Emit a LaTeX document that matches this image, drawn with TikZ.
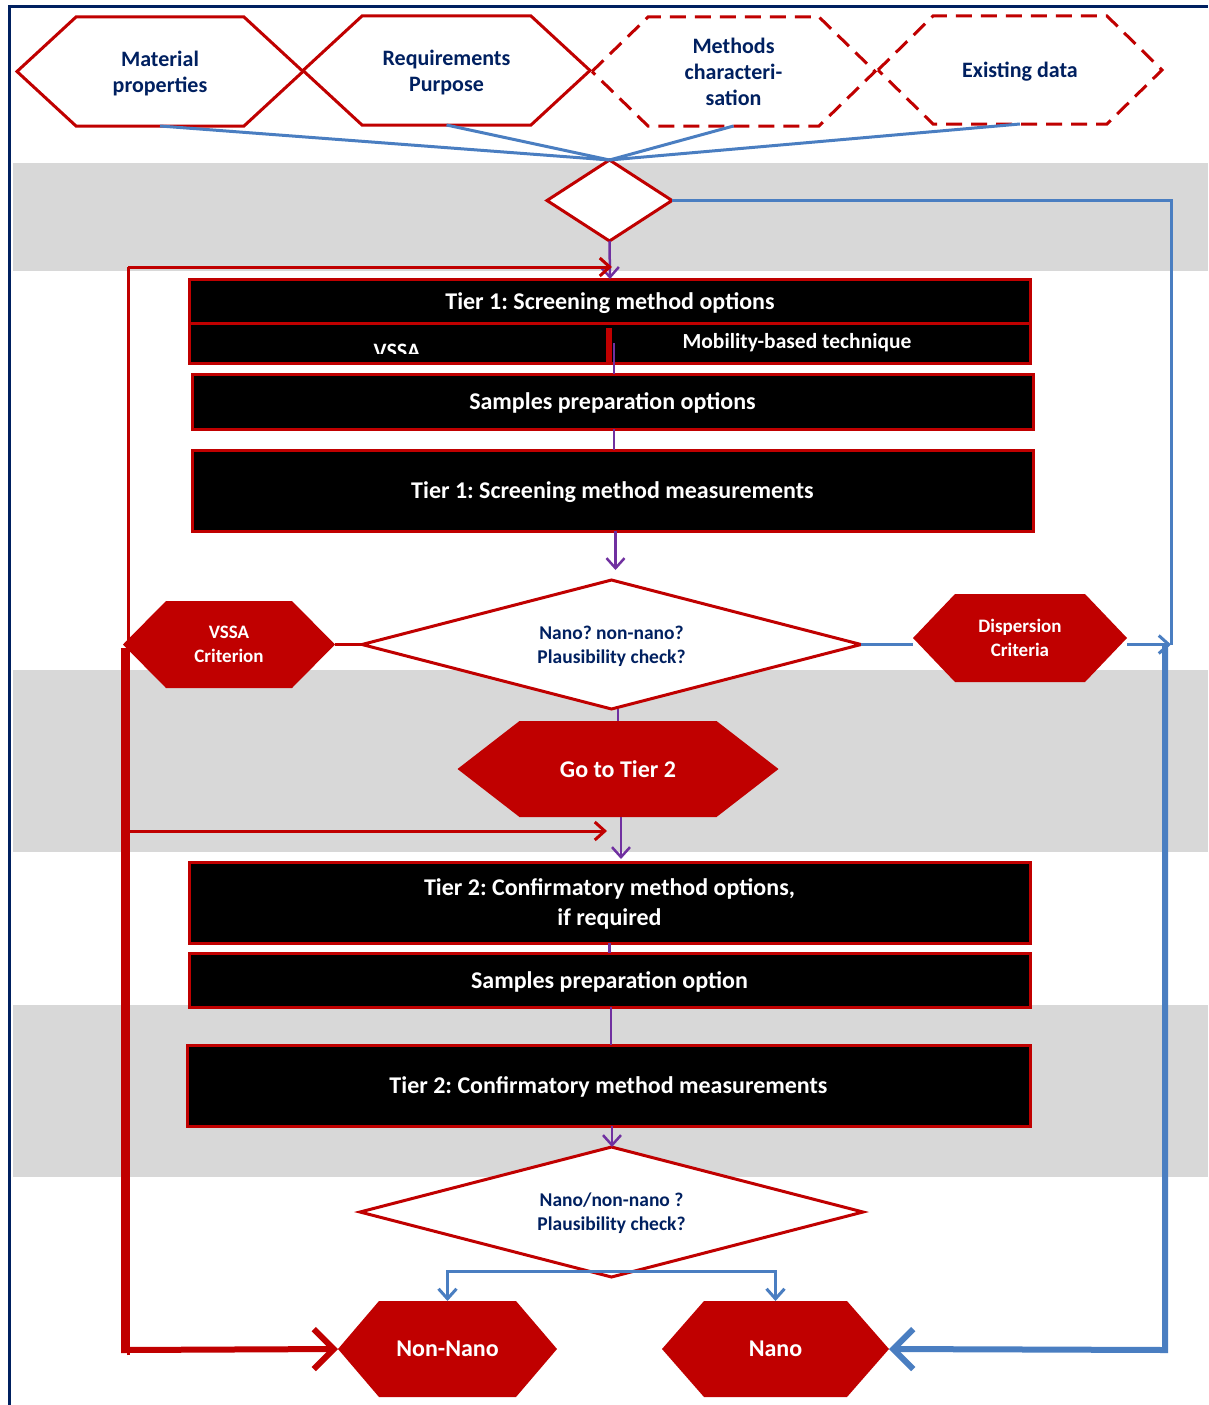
\documentclass[tikz,border=0pt]{standalone}
\usepackage{fontspec}
\setmainfont{Carlito}
\frenchspacing
\usetikzlibrary{arrows.meta,calc}
\definecolor{cred}{RGB}{192,0,0}
\definecolor{cblue}{RGB}{74,126,193}
\definecolor{cnavy}{RGB}{0,32,96}
\definecolor{cpurple}{RGB}{112,48,160}
\definecolor{cgray}{RGB}{216,216,216}
\pgfdeclarelayer{bands}\pgfdeclarelayer{shapes}\pgfsetlayers{bands,shapes,main}
\newcommand\hexshape[3]{%
\begin{pgfonlayer}{shapes}
\path[#1] (#2.west) -- ([xshift=#3pt]#2.north west) -- ([xshift=-#3pt]#2.north east) -- (#2.east) -- ([xshift=-#3pt]#2.south east) -- ([xshift=#3pt]#2.south west) -- cycle;
\end{pgfonlayer}}
\newcommand\diashape[2]{%
\begin{pgfonlayer}{shapes}
\path[#1] (#2.north) -- (#2.east) -- (#2.south) -- (#2.west) -- cycle;
\end{pgfonlayer}}
\begin{document}
\begin{tikzpicture}[x=1pt,y=-1pt,
  lbl/.style={inner sep=0pt, outer sep=0pt, align=center, text depth=0pt},
  toptxt/.style={lbl, text=cnavy, font=\fontsize{22}{26}\selectfont\bfseries},
  whitetxt/.style={lbl, text=white, font=\fontsize{24}{28}\selectfont\bfseries},
  smallwhite/.style={lbl, text=white, font=\fontsize{19}{24}\selectfont\bfseries},
  diatxt/.style={lbl, text=cnavy, font=\fontsize{19.5}{24}\selectfont\bfseries},
  hexline/.style={draw=cred, line width=3pt, fill=white, line join=miter},
  hexdash/.style={hexline, dash pattern=on 16pt off 9pt},
  hexfill/.style={fill=cred},
  box/.style={fill=black, draw=cred, line width=3pt, text=white, inner sep=0pt, outer sep=0pt, align=center, text depth=0pt,
     font=\fontsize{24}{30}\selectfont\bfseries, minimum width=841pt},
  bluethin/.style={draw=cblue, line width=3pt},
  bluethick/.style={draw=cblue, line width=6pt},
  redthin/.style={draw=cred, line width=3pt},
  redthick/.style={draw=cred, line width=6pt},
  purp/.style={draw=cpurple, line width=2.5pt},
  barb/.style={-{Straight Barb[length=10pt,width=18pt]}},
  bigbarb/.style={-{Straight Barb[length=20pt,width=40pt]}}
]
\useasboundingbox (0,0) rectangle (1208,1405);
% bands
\begin{pgfonlayer}{bands}
\fill[white] (0,0) rectangle (1208,1405);
\fill[cgray] (13,163) rectangle (1208,271);
\fill[cgray] (13,670) rectangle (1208,852);
\fill[cgray] (13,1005) rectangle (1208,1177);
\draw[cnavy, line width=3pt] (9,1405) -- (9,7) -- (1208,7);
\end{pgfonlayer}

% top hexagons
\node[toptxt, minimum width=286pt, minimum height=109pt] (mat) at (160,71.5) {Material\\properties};
\hexshape{hexline}{mat}{59}
\node[toptxt, minimum width=287pt, minimum height=109pt] (req) at (446.5,70.5) {Requirements\\Purpose};
\hexshape{hexline}{req}{59}
\node[toptxt, minimum width=283pt, minimum height=109pt] (meth) at (733.5,71.5) {Methods\\characteri-\\sation};
\hexshape{hexdash}{meth}{56}
\node[toptxt, minimum width=284pt, minimum height=108pt] (exist) at (1020,70) {Existing data};
\hexshape{hexdash}{exist}{55}

% small diamond
\node[lbl, minimum width=125pt, minimum height=81pt] (d0) at (609.5,200.5) {};
\diashape{hexline}{d0}

\draw[bluethin] (mat.south) -- (d0.north);
\draw[bluethin] (req.south) -- (d0.north);
\draw[bluethin] (meth.south) -- (d0.north);
\draw[bluethin] (exist.south) -- (d0.north);

% Tier 1 box
\node[box, minimum height=44pt] (t1) at (610,301) {Tier 1: Screening method options};
\node[box, minimum height=40pt, anchor=north] (t1b) at (t1.south) {};
\begin{scope}
\clip (191,325) rectangle (608,353);
\node[lbl, text=white, font=\fontsize{22}{24}\selectfont\bfseries, anchor=base] (vssatxt) at (397,358) {VSSA};
\end{scope}
\node[lbl, text=white, font=\fontsize{21.5}{24}\selectfont\bfseries] (mob) at (797,341) {Mobility-based technique};
\draw[cred, line width=6pt] (609,328) -- (609,362);

\node[box, minimum height=55pt] (sp1) at (612.5,401.5) {Samples preparation options};
\node[box, minimum height=81pt] (m1) at (612.5,490.5) {Tier 1: Screening method measurements};

% diamond 1
\node[diatxt, minimum width=499pt, minimum height=129pt] (d1) at (611.5,644.5) {Nano? non-nano?\\Plausibility check?};
\diashape{hexline}{d1}

\node[smallwhite, minimum width=212pt, minimum height=87pt] (vssa) at (229,644.5) {VSSA\\Criterion};
\hexshape{hexfill}{vssa}{43}
\node[smallwhite, minimum width=214pt, minimum height=88pt] (disp) at (1020,638) {Dispersion\\Criteria};
\hexshape{hexfill}{disp}{42}

\node[whitetxt, minimum width=321pt, minimum height=96pt] (g2) at (618,769) {Go to Tier 2};
\hexshape{hexfill}{g2}{62}

% Tier 2 boxes
\node[box, minimum height=81pt] (t2) at (609.5,902.5) {Tier 2: Confirmatory method options,\\if required};
\node[box, minimum height=54pt] (sp2) at (609.5,980) {Samples preparation option};
\node[box, minimum height=81pt, minimum width=843pt] (m2) at (608.5,1085.5) {Tier 2: Confirmatory method measurements};

\node[diatxt, minimum width=503pt, minimum height=130pt] (d2) at (611.5,1212) {Nano/non-nano ?\\Plausibility check?};
\diashape{hexline}{d2}

\node[whitetxt, minimum width=219pt, minimum height=96pt] (nn) at (447.5,1349) {Non-Nano};
\hexshape{hexfill}{nn}{41}
\node[whitetxt, minimum width=227pt, minimum height=96pt] (na) at (775.5,1349) {Nano};
\hexshape{hexfill}{na}{42}

% coordinates
\coordinate (rtop) at (1171,200.5);
\coordinate (rmid) at (1171,644.5);
\coordinate (rb1) at (1165,645);
\coordinate (rb2) at (1165,1350);
\coordinate (lt) at (128,267);
\coordinate (t1in) at (612,267);
\coordinate (lb) at (128,1355);
\coordinate (lmid) at (128,831);
\coordinate (t2in) at (607,831);
\coordinate (lk1) at (124,648);
\coordinate (lk2) at (124,1350);
\coordinate (split) at (612,1271);

% purple flow
\draw[purp, barb] (d0.south) -- (t1.north);
\draw[purp] ([xshift=4pt]t1b.center) -- ([xshift=4pt]t1b.center |- sp1.north);
\draw[purp] ([xshift=1.5pt]sp1.south) -- ([xshift=1.5pt]m1.north);
\draw[purp, barb, shorten >=10pt] ([xshift=3pt]m1.south) -- ([xshift=3pt]m1.south |- d1.north);
\draw[purp] ([xshift=6.5pt]d1.south) -- (g2.north);
\draw[purp, barb, shorten >=3pt] ([xshift=3pt]g2.south) -- ([xshift=3pt]g2.south |- t2.north);
\draw[purp] (t2.south) -- (sp2.north);
\draw[purp] ([xshift=1.5pt]sp2.south) -- ([xshift=1.5pt]sp2.south |- m2.north);
\draw[purp, barb] ([xshift=3.5pt]m2.south) -- ([xshift=3.5pt]m2.south |- d2.north);

% red connectors
\draw[redthin] (vssa.east) -- (d1.west);
\draw[redthin] (lb) -- (lt);
\draw[redthin, barb] (lt) -- (t1in);
\draw[redthin, barb] (lmid) -- (t2in);
\draw[redthick, bigbarb] (lk1) -- (lk2) -- (nn.west);

% blue connectors
\draw[bluethin] (d0.east) -- (rtop) -- (rmid);
\draw[bluethin] (d1.east) -- (d1.east -| disp.west);
\draw[bluethin, barb] (d1.east -| disp.east) -- (rmid);
\draw[bluethick, bigbarb] (rb1) -- (rb2) -- (na.east);
\draw[bluethin, barb] (split) -| (nn.north);
\draw[bluethin, barb] (split) -| (na.north);
\end{tikzpicture}
\end{document}
